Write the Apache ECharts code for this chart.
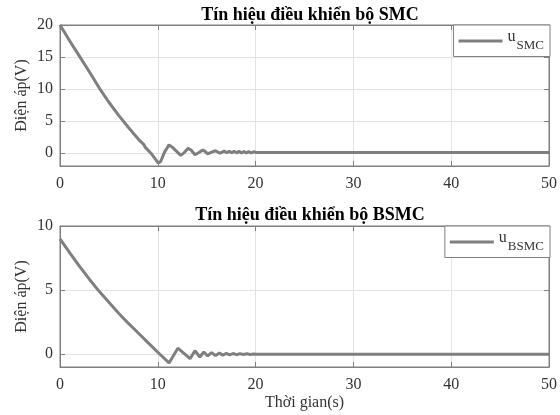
<!DOCTYPE html>
<html>
<head>
<meta charset="utf-8">
<script src="https://cdn.jsdelivr.net/npm/echarts@6/dist/echarts.min.js"></script>
<style>html,body{margin:0;padding:0;background:#fff;}#c{width:560px;height:415px;}</style>
</head>
<body>
<div id="c"></div>
<script>
// Time axis ticks
var xTicks = [0, 10, 20, 30, 40, 50];
// SMC control signal
var tSMC = [0,1,2,3,4,5,6,7,8,8.6,8.7,9.3,10.05,10.3,10.7,11.15,11.5,12.35,12.7,13.1,13.4,13.8,14.2,14.6,14.85,15.1,15.5,15.9,16.1,16.35,16.8,17.05,17.3,17.55,17.8,18.05,18.3,18.55,18.8,19.05,19.3,19.55,19.8,20.1,50];
var uSMC = [20,17.5,15.1,12.7,10.2,7.95,5.9,4.0,2.2,1.3,0.95,0,-1.55,-1.3,0.2,1.3,0.9,-0.35,0.1,0.75,0.5,-0.25,0.1,0.5,0.25,-0.1,0.15,0.38,0.15,0,0.33,0.05,0.3,0.05,0.3,0.05,0.28,0.05,0.27,0.05,0.25,0.05,0.22,0.12,0.12];
// BSMC control signal
var tBSMC = [0,1,2,3,4,5,6,7,8,9,10,11.15,12.05,13.3,13.8,14.3,14.7,15.1,15.5,15.9,16.3,16.65,17.0,17.35,17.7,18.05,18.4,18.75,19.1,19.45,19.8,20.2,21,50];
var uBSMC = [9.0,7.9,6.85,5.85,4.9,4.05,3.2,2.4,1.65,0.9,0.15,-0.68,0.47,-0.35,0.27,-0.22,0.17,-0.14,0.12,-0.1,0.08,-0.07,0.06,-0.05,0.05,-0.04,0.04,-0.03,0.03,-0.02,0.02,-0.01,0,0];

function pairs(t, v) { return t.map(function (x, i) { return [x, v[i]]; }); }

var FONT = '"Liberation Serif", "Times New Roman", serif';
var AX = '#7f7f7f';
var GRIDC = '#e3e3e3';
var TXT = '#333333';
var LINE = '#7f7f7f';

function mainX(gi, showName) {
  return {
    type: 'value', gridIndex: gi, min: xTicks[0], max: xTicks[xTicks.length - 1], interval: 10,
    axisLine: { show: true, onZero: false, lineStyle: { color: AX } },
    axisTick: { show: true, inside: true, length: 5, lineStyle: { color: AX } },
    axisLabel: { color: TXT, fontFamily: FONT, fontSize: 16, margin: 10 },
    splitLine: { show: true, lineStyle: { color: GRIDC } },
    name: showName ? 'Thời gian(s)' : '', nameLocation: 'middle', nameGap: 28,
    nameTextStyle: { color: TXT, fontFamily: FONT, fontSize: 16 }
  };
}
function mirrorX(gi) {
  return {
    type: 'value', gridIndex: gi, position: 'top', min: 0, max: 50, interval: 10,
    axisLine: { show: true, onZero: false, lineStyle: { color: AX } },
    axisTick: { show: true, inside: true, length: 5, lineStyle: { color: AX } },
    axisLabel: { show: false }, splitLine: { show: false }
  };
}
function mainY(gi, mn, mx) {
  return {
    type: 'value', gridIndex: gi, min: mn, max: mx, minInterval: 5, maxInterval: 5,
    axisLine: { show: true, onZero: false, lineStyle: { color: AX } },
    axisTick: { show: true, inside: true, length: 5, lineStyle: { color: AX } },
    axisLabel: { color: TXT, fontFamily: FONT, fontSize: 16, margin: 7,
      formatter: function (v) { return (v % 5 === 0) ? String(v) : ''; } },
    splitLine: { show: true, lineStyle: { color: GRIDC } },
    name: 'Điện áp(V)', nameLocation: 'middle', nameGap: 30, nameMoveOverlap: false,
    nameTextStyle: { color: TXT, fontFamily: FONT, fontSize: 16 }
  };
}
function mirrorY(gi, mn, mx) {
  return {
    type: 'value', gridIndex: gi, position: 'right', min: mn, max: mx, minInterval: 5, maxInterval: 5,
    axisLine: { show: true, onZero: false, lineStyle: { color: AX } },
    axisTick: { show: true, inside: true, length: 5, lineStyle: { color: AX } },
    axisLabel: { show: false }, splitLine: { show: false }
  };
}
function legend(name, sub, right, top) {
  return {
    data: [name], right: right, top: top, orient: 'horizontal',
    backgroundColor: '#fff', borderColor: AX, borderWidth: 1,
    padding: [4, 6, 4, 5], itemWidth: 44, itemHeight: 3, itemGap: 5, icon: 'rect',
    formatter: function () { return '{u|u}{s|' + sub + '}'; },
    textStyle: {
      rich: {
        u: { fontFamily: FONT, fontSize: 16, color: TXT, padding: [0, 1, 8, 0] },
        s: { fontFamily: FONT, fontSize: 13, color: TXT, padding: [10, 0, 0, 0] }
      }
    }
  };
}

var chart = echarts.init(document.getElementById('c'), null, { renderer: 'canvas' });
chart.setOption({
  backgroundColor: '#fff',
  animation: false,
  title: [
    { text: 'Tín hiệu điều khiển bộ SMC', left: 305, textAlign: 'center', top: 1,
      textStyle: { fontFamily: FONT, fontSize: 18, fontWeight: 'bold', color: '#000' } },
    { text: 'Tín hiệu điều khiển bộ BSMC', left: 305, textAlign: 'center', top: 201,
      textStyle: { fontFamily: FONT, fontSize: 18, fontWeight: 'bold', color: '#000' } }
  ],
  grid: [
    { left: 60, right: 10, top: 25, height: 141, show: true, borderColor: AX, borderWidth: 1 },
    { left: 60, right: 10, top: 226, height: 141, show: true, borderColor: AX, borderWidth: 1 }
  ],
  legend: [legend('uSMC', 'SMC', 10, 25), legend('uBSMC', 'BSMC', 10, 226)],
  xAxis: [mainX(0, false), mirrorX(0), mainX(1, true), mirrorX(1)],
  yAxis: [mainY(0, -2, 20), mirrorY(0, -2, 20), mainY(1, -1, 10), mirrorY(1, -1, 10)],
  series: [
    { name: 'uSMC', type: 'line', xAxisIndex: 0, yAxisIndex: 0, data: pairs(tSMC, uSMC),
      showSymbol: false, symbol: 'none', lineStyle: { color: LINE, width: 3 }, itemStyle: { color: LINE } },
    { name: 'uBSMC', type: 'line', xAxisIndex: 2, yAxisIndex: 2, data: pairs(tBSMC, uBSMC),
      showSymbol: false, symbol: 'none', lineStyle: { color: LINE, width: 3 }, itemStyle: { color: LINE } }
  ]
});
</script>
</body>
</html>
